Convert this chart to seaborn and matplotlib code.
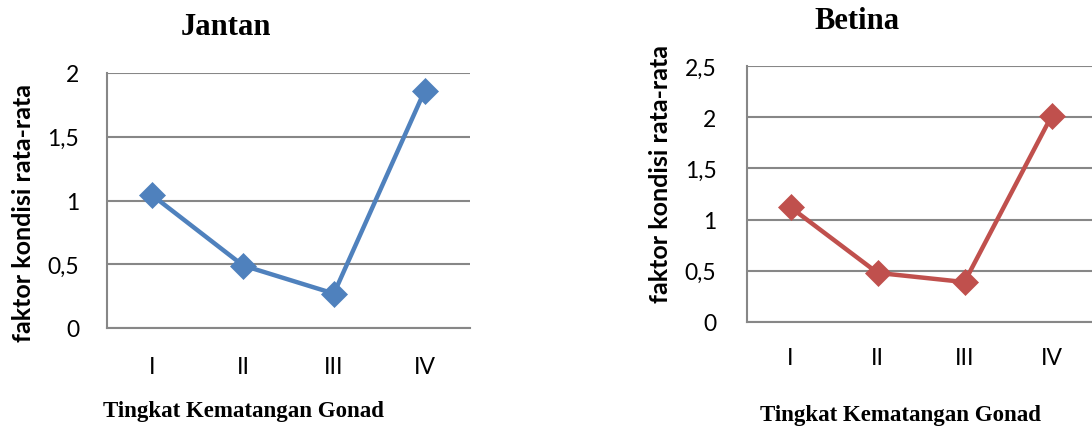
import matplotlib
matplotlib.use("Agg")
import matplotlib.pyplot as plt
import seaborn as sns

# Gonad maturity stages and mean condition factor per sex
stages = ["I", "II", "III", "IV"]
jantan = [1.04, 0.49, 0.27, 1.86]
betina = [1.12, 0.48, 0.39, 2.01]

jantan_ticks = [0, 0.5, 1, 1.5, 2]
jantan_ticklabels = ["0", "0,5", "1", "1,5", "2"]
betina_ticks = [0, 0.5, 1, 1.5, 2, 2.5]
betina_ticklabels = ["0", "0,5", "1", "1,5", "2", "2,5"]

titles = ["Jantan", "Betina"]
xlabel = "Tingkat Kematangan Gonad"
ylabel = "faktor kondisi rata-rata"

BLUE = "#4F81BD"
RED = "#C0504D"
GRID = "#878787"

sns.set_style("white")
plt.rcParams["font.family"] = ["Lato", "DejaVu Sans"]
plt.rcParams["text.color"] = "black"

W, H = 1092, 427
fig = plt.figure(figsize=(W / 100, H / 100), dpi=100)


def px_axes(left, top, right, bottom):
    return fig.add_axes([left / W, 1 - bottom / H, (right - left) / W, (bottom - top) / H])


def style_panel(ax, values, color, ticks, ticklabels, ypad, xpad):
    sns.pointplot(x=stages, y=values, color=color, markers="D", linestyles="-",
                  errorbar=None, markersize=13, linewidth=3.2,
                  markeredgewidth=0.5, ax=ax)
    ax.set_xlim(-0.5, len(stages) - 0.5)
    ax.set_ylim(ticks[0], ticks[-1])
    ax.set_yticks(ticks)
    ax.set_yticklabels(ticklabels)
    ax.yaxis.grid(True, color=GRID, linewidth=1.5)
    ax.xaxis.grid(False)
    ax.set_axisbelow(True)
    for side in ("top", "right"):
        ax.spines[side].set_visible(False)
    for side in ("left", "bottom"):
        ax.spines[side].set_visible(True)
        ax.spines[side].set_color(GRID)
        ax.spines[side].set_linewidth(1.5)
    ax.tick_params(axis="y", length=0, pad=ypad, labelsize=16.5, labelcolor="black")
    ax.tick_params(axis="x", length=0, pad=xpad, labelsize=16.5, labelcolor="black")
    ax.set_xlabel("")
    ax.set_ylabel("")


ax1 = px_axes(107, 74, 470, 329)
style_panel(ax1, jantan, BLUE, jantan_ticks, jantan_ticklabels, ypad=20, xpad=20)

ax2 = px_axes(747, 67, 1095, 323)
style_panel(ax2, betina, RED, betina_ticks, betina_ticklabels, ypad=22, xpad=18)

serif = dict(family="Liberation Serif", weight="bold", color="black")

# Chart titles
fig.text(226 / W, 1 - 35 / H, titles[0], ha="center", va="baseline", fontsize=22, **serif)
fig.text(857 / W, 1 - 29 / H, titles[1], ha="center", va="baseline", fontsize=22, **serif)

# Axis titles
fig.text(243 / W, 1 - 417 / H, xlabel, ha="center", va="baseline", fontsize=16.5, **serif)
fig.text(900 / W, 1 - 421 / H, xlabel, ha="center", va="baseline", fontsize=16.5, **serif)

fig.text(24 / W, 1 - 213 / H, ylabel, ha="center", va="center", rotation=90,
         fontsize=18, weight="bold", color="black")
fig.text(661 / W, 1 - 174 / H, ylabel, ha="center", va="center", rotation=90,
         fontsize=18, weight="bold", color="black")

fig.savefig("out.png", dpi=100)
